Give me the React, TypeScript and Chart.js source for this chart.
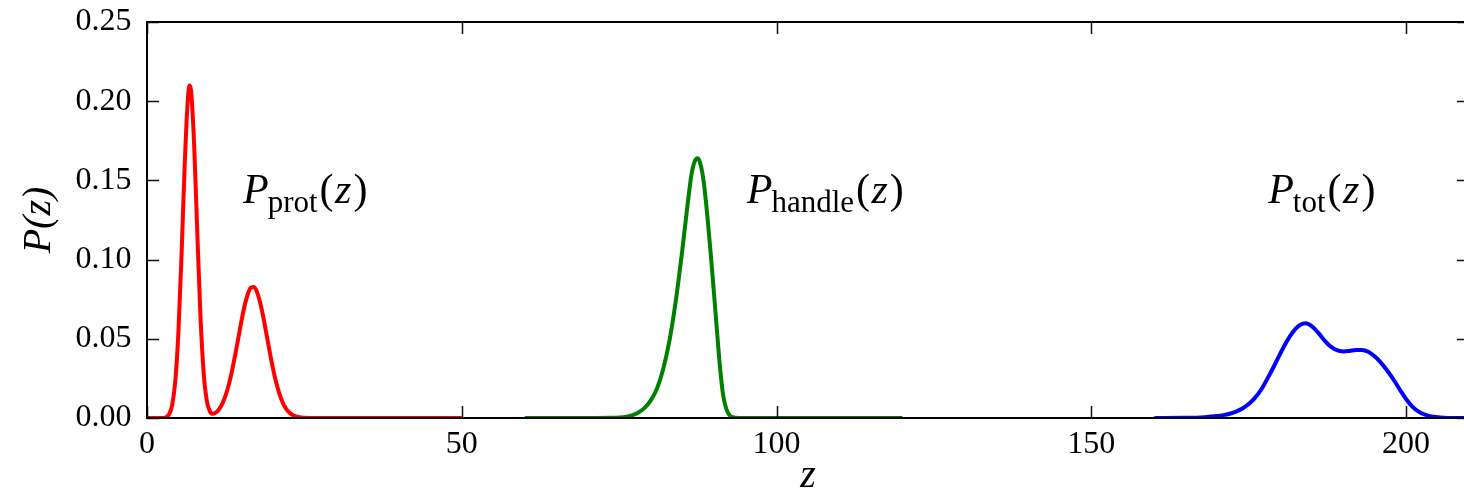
import React, { useEffect, useRef } from "react";
import { Chart, registerables } from "chart.js";

Chart.register(...registerables);

// ---- data ----
const Z_PROT = [0, 1, 2, 2.5, 3, 3.5, 4, 4.5, 5, 5.5, 6, 6.5, 6.75, 7, 7.5, 8, 8.5, 9, 9.5, 10, 10.5, 11, 11.5, 12, 12.5, 13, 13.5, 14, 14.5, 15, 15.5, 16, 16.5, 17, 17.5, 18, 18.5, 19, 19.5, 20, 20.5, 21, 21.5, 22, 22.5, 23, 23.5, 24, 25, 26, 30, 40, 50];
const P_PROT = [0, 0, 0, 0, 0.0005, 0.0023, 0.0082, 0.0236, 0.055, 0.1045, 0.161, 0.202, 0.2099, 0.2066, 0.1715, 0.1158, 0.0636, 0.0287, 0.0109, 0.0041, 0.0027, 0.0036, 0.0058, 0.0094, 0.0145, 0.0212, 0.0296, 0.0396, 0.0503, 0.0611, 0.0707, 0.0781, 0.0823, 0.0827, 0.0793, 0.0724, 0.0632, 0.0525, 0.0417, 0.0315, 0.0227, 0.0157, 0.0103, 0.0064, 0.0038, 0.0022, 0.0012, 0.0006, 0.0001, 0, 0, 0, 0];

const Z_HANDLE = [60, 70, 74, 75, 76, 77, 78, 79, 80, 81, 82, 83, 84, 85, 86, 86.5, 87, 87.5, 88, 88.5, 89, 89.5, 90, 90.5, 91, 91.5, 92, 92.5, 93, 94, 100, 110, 120];
const P_HANDLE = [0, 0, 0.0001, 0.0003, 0.0007, 0.0016, 0.0033, 0.0062, 0.011, 0.0185, 0.031, 0.049, 0.074, 0.105, 0.139, 0.154, 0.162, 0.164, 0.159, 0.147, 0.128, 0.106, 0.082, 0.057, 0.033, 0.015, 0.006, 0.002, 0.0005, 0, 0, 0, 0];

const Z_TOT = [160, 165, 168, 170, 171, 172, 173, 174, 175, 176, 177, 178, 179, 180, 181, 182, 183, 184, 185, 186, 187, 188, 189, 190, 191, 192, 193, 194, 195, 196, 197, 198, 199, 200, 201, 202, 203, 204, 205, 206, 208, 210, 212];
const P_TOT = [0, 0.0001, 0.0005, 0.0012, 0.0018, 0.0027, 0.004, 0.006, 0.0088, 0.0127, 0.018, 0.025, 0.0325, 0.0405, 0.048, 0.0541, 0.0583, 0.0598, 0.058, 0.054, 0.0492, 0.0452, 0.0428, 0.042, 0.0423, 0.0429, 0.043, 0.0418, 0.039, 0.035, 0.03, 0.0243, 0.018, 0.012, 0.0072, 0.004, 0.0021, 0.001, 0.0005, 0.0002, 0.00005, 0, 0];

const X_TICKS = [0, 50, 100, 150, 200];
const Y_TICKS = [0, 0.05, 0.1, 0.15, 0.2, 0.25];

const LABEL_SUBS = ["prot", "handle", "tot"];
const LABEL_X = [15.25, 95.27, 178.1];
const LABEL_Y = [0.1355, 0.1355, 0.1355];

const SERIES_COLORS = ["#ff0000", "#008000", "#0000ff"];

const SERIF = "'Liberation Serif', 'DejaVu Serif', serif";

const framePlugin = {
  id: "frame",
  afterDatasetsDraw(chart: any) {
    const { ctx, chartArea, scales } = chart;
    const { left, right, top, bottom } = chartArea;
    const xs = scales.x;
    const ys = scales.y;
    ctx.save();
    ctx.strokeStyle = "#111";
    ctx.lineWidth = 1.5;
    const tl = 12;
    ctx.beginPath();
    X_TICKS.forEach((v) => {
      const px = Math.round(xs.getPixelForValue(v)) + 0.5;
      ctx.moveTo(px, bottom);
      ctx.lineTo(px, bottom - tl);
      ctx.moveTo(px, top);
      ctx.lineTo(px, top + tl);
    });
    Y_TICKS.forEach((v) => {
      const py = Math.round(ys.getPixelForValue(v)) + 0.5;
      ctx.moveTo(left, py);
      ctx.lineTo(left + tl, py);
      ctx.moveTo(right, py);
      ctx.lineTo(right - tl, py);
    });
    ctx.stroke();
    ctx.strokeStyle = "#000";
    ctx.lineWidth = 2;
    ctx.strokeRect(left, top, right - left, bottom - top);

    // curve annotations P_sub(z)
    ctx.fillStyle = "#000";
    ctx.textBaseline = "alphabetic";
    ctx.textAlign = "left";
    LABEL_SUBS.forEach((sub, i) => {
      let x = xs.getPixelForValue(LABEL_X[i]);
      const y = ys.getPixelForValue(LABEL_Y[i]);
      ctx.font = `italic 42px ${SERIF}`;
      ctx.fillText("P", x, y);
      x += ctx.measureText("P").width - 1;
      ctx.font = `31px ${SERIF}`;
      ctx.fillText(sub, x, y + 8.5);
      x += ctx.measureText(sub).width + 2;
      ctx.font = `42px ${SERIF}`;
      ctx.fillText("(", x, y);
      x += ctx.measureText("(").width + 1.5;
      ctx.font = `italic 42px ${SERIF}`;
      ctx.fillText("z", x, y);
      x += ctx.measureText("z").width + 2;
      ctx.font = `42px ${SERIF}`;
      ctx.fillText(")", x, y);
    });
    ctx.restore();
  },
};

export default function App() {
  const canvasRef = useRef<HTMLCanvasElement | null>(null);

  useEffect(() => {
    const canvas = canvasRef.current;
    if (!canvas) return;
    const mk = (zs: number[], ps: number[]) => zs.map((z, i) => ({ x: z, y: ps[i] }));
    const chart = new Chart(canvas, {
      type: "line",
      data: {
        datasets: [
          { label: "P_prot(z)", data: mk(Z_PROT, P_PROT), borderColor: SERIES_COLORS[0] },
          { label: "P_handle(z)", data: mk(Z_HANDLE, P_HANDLE), borderColor: SERIES_COLORS[1] },
          { label: "P_tot(z)", data: mk(Z_TOT, P_TOT), borderColor: SERIES_COLORS[2] },
        ].map((d) => ({
          ...d,
          borderWidth: 4,
          pointRadius: 0,
          fill: false,
          cubicInterpolationMode: "monotone" as const,
        })),
      },
      options: {
        responsive: false,
        animation: false,
        devicePixelRatio: 1,
        layout: { padding: { top: 22, right: 11, bottom: 0, left: 0 } },
        plugins: { legend: { display: false }, tooltip: { enabled: false } },
        scales: {
          x: {
            type: "linear",
            min: 0,
            max: 210,
            grid: { display: false, drawTicks: false },
            border: { display: false },
            afterBuildTicks: (s: any) => {
              s.ticks = X_TICKS.map((v) => ({ value: v }));
            },
            afterFit: (s: any) => {
              s.height = 72;
            },
            ticks: {
              padding: 7,
              color: "#000",
              maxRotation: 0,
              font: { family: SERIF, size: 32 },
              callback: (v: any) => String(v),
            },
            title: {
              display: true,
              text: "z",
              color: "#000",
              font: { family: SERIF, size: 40, style: "italic", lineHeight: 0.8 },
              padding: { top: 0, bottom: -2 },
            },
          },
          y: {
            min: 0,
            max: 0.25,
            grid: { display: false, drawTicks: false },
            border: { display: false },
            afterBuildTicks: (s: any) => {
              s.ticks = Y_TICKS.map((v) => ({ value: v }));
            },
            afterFit: (s: any) => {
              s.width = 147;
            },
            ticks: {
              padding: 15.5,
              color: "#000",
              font: { family: SERIF, size: 32, lineHeight: 0.2 },
              callback: (v: any) => Number(v).toFixed(2),
            },
            title: {
              display: true,
              text: "P(z)",
              color: "#000",
              font: { family: SERIF, size: 40, style: "italic", lineHeight: 0.8 },
              padding: { top: 23, bottom: 0 },
            },
          },
        },
      },
      plugins: [framePlugin],
    });
    return () => chart.destroy();
  }, []);

  return (
    <div
      style={{
        position: "fixed",
        left: 0,
        top: 0,
        width: 1464,
        height: 490,
        overflow: "hidden",
        background: "#fff",
      }}
    >
      <canvas ref={canvasRef} width={1480} height={490} style={{ display: "block" }} />
    </div>
  );
}
